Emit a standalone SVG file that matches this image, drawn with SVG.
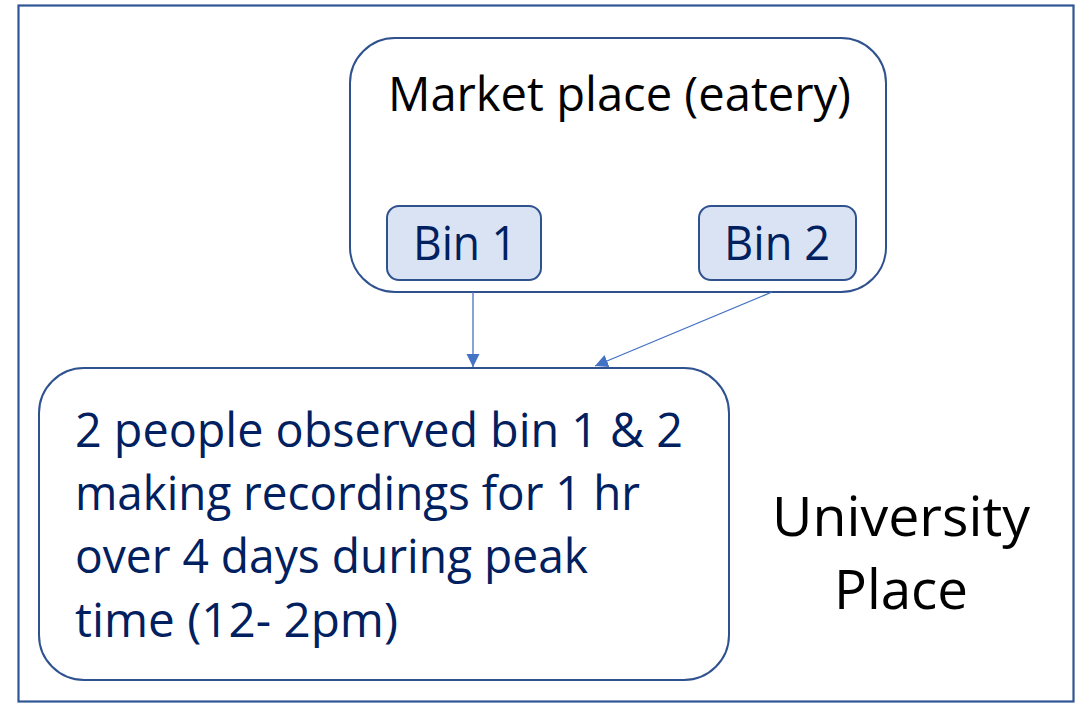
<svg xmlns="http://www.w3.org/2000/svg" width="1079" height="704" viewBox="0 0 1079 704">
<style>
.box{fill:#ffffff;stroke:#2F528F;stroke-width:2}
.bin{fill:#DAE3F3;stroke:#2F528F;stroke-width:2}
.t{font-family:"Open Sans","Noto Sans",sans-serif}
.blk{fill:#000000}
.navy{fill:#002060}
.conn{stroke:#4472C4;stroke-width:1.3;fill:none}
</style>
<defs>
<marker id="ah" markerUnits="userSpaceOnUse" markerWidth="14" markerHeight="14" refX="13" refY="6.5" orient="auto">
<path d="M0,0 L13,6.5 L0,13 Z" fill="#4472C4"/>
</marker>
</defs>
<rect width="1079" height="704" fill="#ffffff"/>
<g id="university">
<rect x="18.5" y="5.5" width="1055" height="696" fill="#ffffff" stroke="#2F5597" stroke-width="2.2"/>
<text class="t blk" x="772" y="536" font-size="54" textLength="258" lengthAdjust="spacingAndGlyphs">University</text>
<text class="t blk" x="834" y="609" font-size="54" textLength="134" lengthAdjust="spacingAndGlyphs">Place</text>
</g>
<g id="market">
<rect class="box" x="350" y="38" width="536" height="254" rx="45"/>
<text class="t blk" x="388" y="111" font-size="48" textLength="463" lengthAdjust="spacingAndGlyphs">Market place (eatery)</text>
</g>
<g id="bin1">
<rect class="bin" x="387" y="206" width="154" height="74" rx="12"/>
<text class="t navy" x="413" y="260" font-size="48" textLength="104" lengthAdjust="spacingAndGlyphs">Bin 1</text>
</g>
<g id="bin2">
<rect class="bin" x="699" y="206" width="157" height="74" rx="12"/>
<text class="t navy" x="724" y="260" font-size="48" textLength="106" lengthAdjust="spacingAndGlyphs">Bin 2</text>
</g>
<g id="observation">
<rect class="box" x="39" y="368" width="690" height="312" rx="45"/>
<text class="t navy" font-size="48">
<tspan x="75" y="447" textLength="608" lengthAdjust="spacingAndGlyphs">2 people observed bin 1 &amp; 2</tspan>
<tspan x="75" y="510" textLength="565" lengthAdjust="spacingAndGlyphs">making recordings for 1 hr</tspan>
<tspan x="75" y="573" textLength="513" lengthAdjust="spacingAndGlyphs">over 4 days during peak</tspan>
<tspan x="75" y="637" textLength="323" lengthAdjust="spacingAndGlyphs">time (12- 2pm)</tspan>
</text>
</g>
<g id="connectors">
<line class="conn" x1="473" y1="292" x2="473" y2="367" marker-end="url(#ah)"/>
<line class="conn" x1="772" y1="292" x2="595" y2="366" marker-end="url(#ah)"/>
</g>
</svg>
